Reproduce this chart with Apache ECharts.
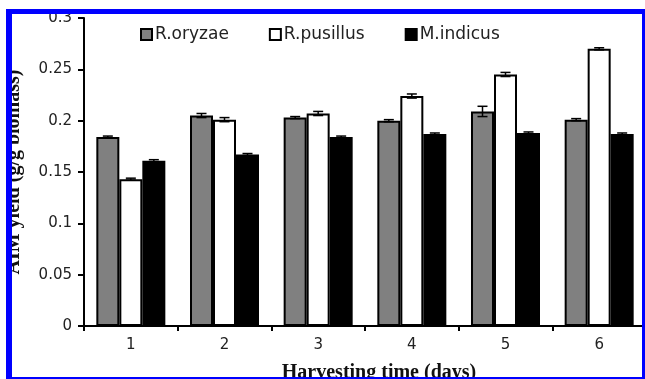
<!DOCTYPE html>
<html>
<head>
<meta charset="utf-8">
<script src="https://cdn.jsdelivr.net/npm/echarts@6/dist/echarts.min.js"></script>
<style>html,body{margin:0;padding:0;background:#fff;}#c{width:645px;height:379px;}</style>
</head>
<body>
<div id="c"></div>
<script>
var categories = ['1', '2', '3', '4', '5', '6'];
var seriesNames = ['R.oryzae', 'R.pusillus', 'M.indicus'];
var oryzae = [0.184, 0.205, 0.203, 0.200, 0.209, 0.201];
var oryzaeErr = [0.001, 0.002, 0.001, 0.001, 0.005, 0.001];
var pusillus = [0.143, 0.201, 0.207, 0.224, 0.245, 0.270];
var pusillusErr = [0.001, 0.002, 0.002, 0.002, 0.002, 0.001];
var indicus = [0.161, 0.167, 0.184, 0.187, 0.188, 0.187];
var indicusErr = [0.001, 0.001, 0.001, 0.001, 0.001, 0.001];
var yTicks = ['0', '0.05', '0.1', '0.15', '0.2', '0.25', '0.3'];

var BAR_W = 23;
var fills = ['#808080', '#ffffff', '#000000'];
var values = [oryzae, pusillus, indicus];
var errs = [oryzaeErr, pusillusErr, indicusErr];

var chart = echarts.init(document.getElementById('c'), null, {renderer: 'canvas'});

var series = [];
for (var i = 0; i < 3; i++) {
  series.push({
    name: seriesNames[i], type: 'bar', data: values[i], barWidth: BAR_W, barGap: '0%',
    itemStyle: {color: fills[i], borderColor: '#000', borderWidth: 2},
    emphasis: {disabled: true}, z: 2
  });
}
for (var j = 0; j < 3; j++) {
  (function (k) {
    series.push({
      type: 'custom', name: 'err' + k, z: 5, silent: true,
      data: values[k].map(function (v, idx) { return [idx, v, errs[k][idx]]; }),
      renderItem: function (params, api) {
        var idx = api.value(0), v = api.value(1), e = api.value(2);
        var top = api.coord([idx, v + e]);
        var bot = api.coord([idx, v - e]);
        var x = top[0] + (k - 1) * BAR_W;
        var cap = 5;
        var st = {stroke: '#000', lineWidth: 1.5};
        return {type: 'group', children: [
          {type: 'line', shape: {x1: x, y1: top[1], x2: x, y2: bot[1]}, style: st},
          {type: 'line', shape: {x1: x - cap, y1: top[1], x2: x + cap, y2: top[1]}, style: st},
          {type: 'line', shape: {x1: x - cap, y1: bot[1], x2: x + cap, y2: bot[1]}, style: st}
        ]};
      }
    });
  })(j);
}

var option = {
  animation: false,
  backgroundColor: '#fff',
  textStyle: {fontFamily: 'DejaVu Sans'},
  legend: {
    data: seriesNames, left: 135, top: 21, icon: 'rect', itemWidth: 11, itemHeight: 11,
    itemGap: 40, selectedMode: false,
    textStyle: {fontFamily: 'DejaVu Sans', fontSize: 17, color: '#222', padding: [0, 0, 0, -2]}
  },
  grid: {left: 84, top: 18, width: 562, height: 308, containLabel: false, outerBoundsMode: 'none'},
  xAxis: {
    type: 'category', data: categories,
    name: 'Harvesting time (days)', nameLocation: 'middle', nameGap: 37,
    nameTextStyle: {fontFamily: 'Liberation Serif', fontWeight: 'bold', fontSize: 20, color: '#111', padding: [0, 0, 0, 28]},
    axisLine: {lineStyle: {color: '#000', width: 2}},
    axisTick: {show: true, length: 5, lineStyle: {color: '#000', width: 2}},
    axisLabel: {fontFamily: 'DejaVu Sans', fontSize: 15, color: '#222', margin: 12}
  },
  yAxis: {
    type: 'value', min: 0, max: 0.3, interval: 0.05,
    name: 'AIM yield (g/g biomass)', nameLocation: 'middle', nameGap: 60, nameRotate: 90,
    nameTextStyle: {fontFamily: 'Liberation Serif', fontWeight: 'bold', fontSize: 20, color: '#111'},
    axisLine: {show: true, lineStyle: {color: '#000', width: 2}},
    axisTick: {show: true, length: 6, lineStyle: {color: '#000', width: 2}},
    splitLine: {show: false},
    axisLabel: {fontFamily: 'DejaVu Sans', fontSize: 15, color: '#222', margin: 12,
      formatter: function (v) { var i = Math.round(v / 0.05); return yTicks[i]; }}
  },
  series: series,
  graphic: [
    {type: 'rect', z: 100, shape: {x: 0, y: 0, width: 645, height: 9}, style: {fill: '#fff'}},
    {type: 'rect', z: 100, shape: {x: 0, y: 0, width: 6, height: 379}, style: {fill: '#fff'}},
    {type: 'rect', z: 101, shape: {x: 6, y: 9, width: 639, height: 5}, style: {fill: '#0000ff'}},
    {type: 'rect', z: 101, shape: {x: 6, y: 9, width: 6, height: 370}, style: {fill: '#0000ff'}},
    {type: 'rect', z: 101, shape: {x: 642, y: 9, width: 3, height: 370}, style: {fill: '#0000ff'}},
    {type: 'rect', z: 101, shape: {x: 6, y: 377, width: 639, height: 2}, style: {fill: '#0000ff'}}
  ]
};
chart.setOption(option);
</script>
</body>
</html>
